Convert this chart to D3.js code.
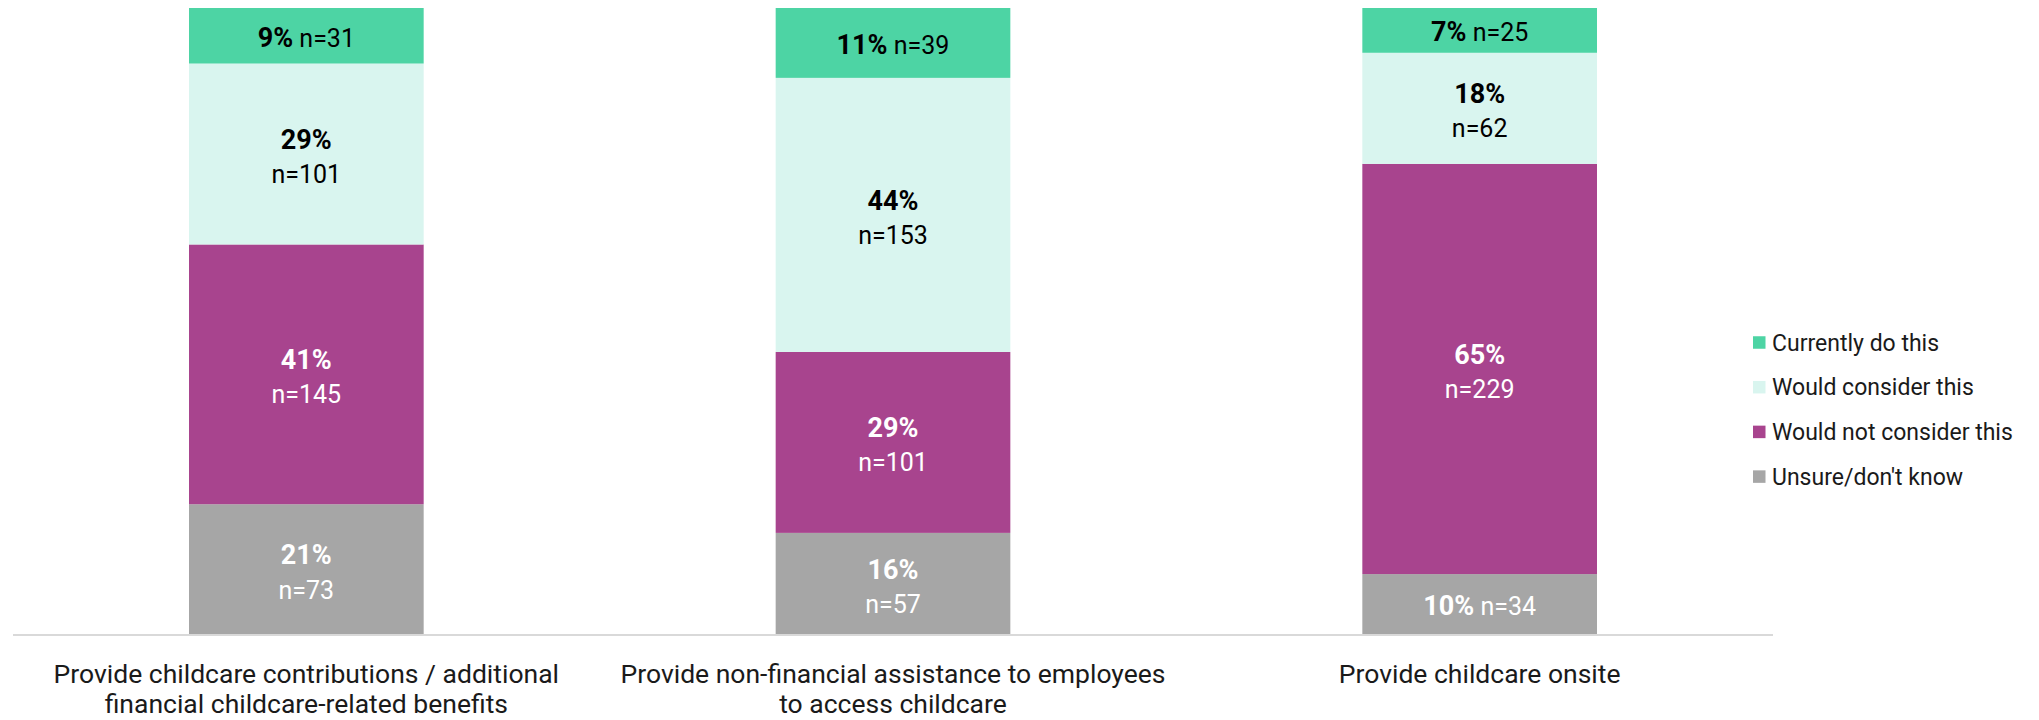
<!DOCTYPE html>
<html>
<head>
<meta charset="utf-8">
<script src="https://cdn.jsdelivr.net/npm/d3@7"></script>
<style>
  html, body { margin: 0; padding: 0; background: #ffffff; }
  svg { display: block; font-family: Roboto, "Noto Sans", sans-serif; }
</style>
</head>
<body>
<svg id="chart" width="2039" height="720"></svg>
<script>
// Childcare support options: respondents per answer (n), stacked to 100%
const categories = [
  "Provide childcare contributions / additional financial childcare-related benefits",
  "Provide non-financial assistance to employees to access childcare",
  "Provide childcare onsite"
];
const categoryLines = [
  ["Provide childcare contributions / additional", "financial childcare-related benefits"],
  ["Provide non-financial assistance to employees", "to access childcare"],
  ["Provide childcare onsite"]
];
const seriesNames = ["Currently do this", "Would consider this", "Would not consider this", "Unsure/don't know"];
const currentlyDo      = [31, 39, 25];
const wouldConsider    = [101, 153, 62];
const wouldNotConsider = [145, 101, 229];
const unsure           = [73, 57, 34];

const colors = ["#4dd4a4", "#d9f5ef", "#a8448e", "#a6a6a6"];
const labelColors = ["#000000", "#000000", "#ffffff", "#ffffff"];

// Stack from the bottom: unsure, would not, would consider, currently do
const stackOrder = [3, 2, 1, 0];
const seriesValues = [currentlyDo, wouldConsider, wouldNotConsider, unsure];

const rows = categories.map((c, i) => {
  const r = { category: c };
  seriesNames.forEach((s, k) => { r[s] = seriesValues[k][i]; });
  r.total = d3.sum(seriesValues, v => v[i]);
  return r;
});

const svg = d3.select("#chart");

const x = d3.scaleBand()
  .domain(categories)
  .range([13, 1773])
  .paddingInner(0.6)
  .paddingOuter(0.3);

const y = d3.scaleLinear().domain([0, 1]).range([635, 8]);

const stack = d3.stack()
  .keys(stackOrder.map(k => seriesNames[k]))
  .value((d, key) => d[key] / d.total);

const layers = stack(rows);

const g = svg.append("g");

layers.forEach(layer => {
  const k = seriesNames.indexOf(layer.key);
  const lg = g.append("g");
  lg.selectAll("rect")
    .data(layer)
    .join("rect")
    .attr("x", d => x(d.data.category))
    .attr("width", x.bandwidth())
    .attr("y", d => y(d[1]))
    .attr("height", d => y(d[0]) - y(d[1]))
    .attr("fill", colors[k]);

  // Value labels: bold percentage plus respondent count
  layer.forEach(d => {
    const n = d.data[layer.key];
    const pct = Math.round(n / d.data.total * 100) + "%";
    const cx = x(d.data.category) + x.bandwidth() / 2;
    const top = y(d[1]), bottom = y(d[0]);
    const cy = (top + bottom) / 2;
    const h = bottom - top;
    const t = lg.append("text")
      .attr("text-anchor", "middle")
      .attr("fill", labelColors[k]);
    if (h < 80) {
      t.attr("x", cx).attr("y", cy + 1.5 + 0.36 * 26);
      t.append("tspan").attr("font-weight", 700).attr("font-size", 27).text(pct);
      t.append("tspan").attr("font-size", 25).text(" n=" + n);
    } else {
      t.append("tspan").attr("x", cx).attr("y", cy - 15 + 0.36 * 27)
        .attr("font-weight", 700).attr("font-size", 27).text(pct);
      t.append("tspan").attr("x", cx).attr("y", cy + 20 + 0.36 * 25)
        .attr("font-size", 25).text("n=" + n);
    }
  });
});

// Baseline
svg.append("line")
  .attr("x1", 13).attr("x2", 1773)
  .attr("y1", 635).attr("y2", 635)
  .attr("stroke", "#d9d9d9")
  .attr("stroke-width", 2);

// Category labels under each bar
categories.forEach((c, i) => {
  const cx = x(c) + x.bandwidth() / 2;
  const t = svg.append("text")
    .attr("text-anchor", "middle")
    .attr("font-size", 26.5)
    .attr("fill", "#1a1a1a");
  categoryLines[i].forEach((line, j) => {
    t.append("tspan")
      .attr("x", cx)
      .attr("y", 673 + 0.36 * 26.5 + j * 30)
      .text(line);
  });
});

// Legend
const legend = svg.append("g").attr("transform", "translate(1753, 342.5)");
seriesNames.forEach((s, k) => {
  const row = legend.append("g").attr("transform", `translate(0, ${k * 44.7})`);
  row.append("rect")
    .attr("x", 0).attr("y", -6.25)
    .attr("width", 12.5).attr("height", 12.5)
    .attr("fill", colors[k]);
  row.append("text")
    .attr("x", 19)
    .attr("y", 0.36 * 23)
    .attr("font-size", 23)
    .attr("fill", "#1a1a1a")
    .text(s);
});
</script>
</body>
</html>
